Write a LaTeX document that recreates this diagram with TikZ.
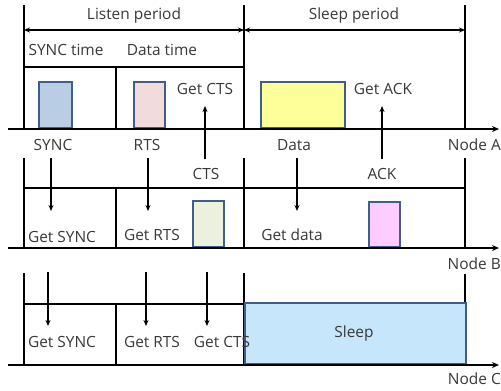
\documentclass[tikz,border=0pt]{standalone}
\usepackage{fontspec}
\setmainfont{Open Sans}
\usetikzlibrary{arrows.meta}
\definecolor{txt}{HTML}{383838}
\definecolor{edge}{HTML}{3F5F8A}
\definecolor{csync}{HTML}{B9CDE5}
\definecolor{crts}{HTML}{F2DCDB}
\definecolor{cdata}{HTML}{FFFF99}
\definecolor{ccts}{HTML}{EBF1DE}
\definecolor{cack}{HTML}{FFCCFF}
\definecolor{csleep}{HTML}{C6E7FB}
\tikzset{
  lbl/.style={text=txt,font=\fontsize{15.5}{17}\selectfont,inner sep=0pt},
  axisline/.style={line width=1.6bp,-{Stealth[length=7bp,width=6bp]}},
  vline/.style={line width=1.5bp},
  hline/.style={line width=1.2bp},
  msg/.style={line width=1.3bp,-{Stealth[length=6bp,width=5bp]}},
  period/.style={line width=1.2bp,{Stealth[length=6bp,width=5bp]}-{Stealth[length=6bp,width=5bp]}},
  pkt/.style={draw=edge,line width=1.6bp},
}
\begin{document}
\begin{tikzpicture}[x=1bp,y=-1bp]
\useasboundingbox (0,0) rectangle (501,390);
% ---------- Node A ----------
\coordinate (A0) at (8,129);
\coordinate (A1) at (499,129);
\coordinate (t1) at (24,5);
\coordinate (t2) at (244,5);
\coordinate (t3) at (465,5);
\coordinate (m1) at (116,67);
\coordinate (h1) at (24,67);
\coordinate (h2) at (244,67);
\draw[vline] (t1) -- (t1 |- A0);
\draw[vline] (t2) -- (t2 |- A0);
\draw[vline] (t3) -- (t3 |- A0);
\draw[vline] (m1) -- (m1 |- A0);
\draw[hline] (h1) -- (h2);
\coordinate (p1) at (24,30);
\coordinate (p2) at (244,30);
\coordinate (p3) at (465,30);
\draw[period] (p1) -- (p2);
\draw[period] (p2) -- (p3);
\node[lbl] (lp) at (134,15) {Listen period};
\node[lbl] (sp) at (354,15) {Sleep period};
\node[lbl] (st) at (66,50) {SYNC time};
\node[lbl] (dt) at (162,50) {Data time};
\node[pkt,fill=csync,minimum width=33bp,minimum height=46bp,anchor=south west] (sync) at (38,129) {};
\node[pkt,fill=crts,minimum width=31bp,minimum height=46bp,anchor=south west] (rts) at (133,129) {};
\node[pkt,fill=cdata,minimum width=84bp,minimum height=46bp,anchor=south west] (data) at (260,129) {};
\draw[axisline] (A0) -- (A1);
\node[lbl] (gcts) at (205,89) {Get CTS};
\node[lbl] (gack) at (383,89) {Get ACK};
\node[lbl] (lsync) at (53,145) {SYNC};
\node[lbl] (lrts) at (147,145) {RTS};
\node[lbl] (ldata) at (294,145) {Data};
\node[lbl,anchor=east] (na) at (501,145) {Node A};
\node[lbl] (lcts) at (206,174) {CTS};
\node[lbl] (lack) at (382,174) {ACK};
% ---------- Node B ----------
\coordinate (B0) at (8,248);
\coordinate (B1) at (499,248);
\coordinate (b1) at (24,158);
\coordinate (b2) at (244,158);
\coordinate (b3) at (465,158);
\coordinate (bm) at (116,188);
\coordinate (bh1) at (24,188);
\coordinate (bh2) at (465,188);
\draw[vline] (b1) -- (b1 |- B0);
\draw[vline] (b2) -- (b2 |- B0);
\draw[vline] (b3) -- (b3 |- B0);
\draw[vline] (bm) -- (bm |- B0);
\draw[hline] (bh1) -- (bh2);
\node[pkt,fill=ccts,minimum width=31bp,minimum height=46bp,anchor=south west] (cts) at (192,248) {};
\node[pkt,fill=cack,minimum width=31bp,minimum height=45bp,anchor=south west] (ack) at (368,248) {};
\draw[axisline] (B0) -- (B1);
\node[lbl] (gsyncb) at (62,237) {Get SYNC};
\node[lbl] (grtsb) at (152,235) {Get RTS};
\node[lbl] (gdata) at (292,235) {Get data};
\node[lbl,anchor=east] (nb) at (501,264) {Node B};
% messages A <-> B
\coordinate (sA) at (51,158); \coordinate (sB) at (51,211);
\coordinate (rA) at (148,158); \coordinate (rB) at (148,211);
\coordinate (dA) at (297,158); \coordinate (dB) at (297,211);
\coordinate (cB) at (205,159); \coordinate (cA) at (205,106);
\coordinate (kB) at (382,159); \coordinate (kA) at (382,106);
\draw[msg] (sA) -- (sB);
\draw[msg] (rA) -- (rB);
\draw[msg] (dA) -- (dB);
\draw[msg] (cB) -- (cA);
\draw[msg] (kB) -- (kA);
% ---------- Node C ----------
\coordinate (C0) at (8,365);
\coordinate (C1) at (499,365);
\coordinate (c1) at (24,273);
\coordinate (c2) at (244,273);
\coordinate (c3) at (465,274);
\coordinate (cm) at (116,304);
\coordinate (ch1) at (24,304);
\coordinate (ch2) at (244,304);
\draw[vline] (c1) -- (c1 |- C0);
\draw[vline] (c2) -- (c2 |- C0);
\draw[vline] (c3) -- (c3 |- C0);
\draw[vline] (cm) -- (cm |- C0);
\draw[hline] (ch1) -- (ch2);
\node[pkt,fill=csleep,minimum width=221bp,minimum height=61bp,anchor=south west] (sleep) at (244,365) {};
\draw[axisline] (C0) -- (C1);
\node[lbl] (sleeplbl) at (354,333) {Sleep};
\coordinate (x1a) at (48,272); \coordinate (x1b) at (48,326);
\coordinate (x2a) at (146,272); \coordinate (x2b) at (146,326);
\coordinate (x3a) at (207,272); \coordinate (x3b) at (207,326);
\draw[msg] (x1a) -- (x1b);
\draw[msg] (x2a) -- (x2b);
\draw[msg] (x3a) -- (x3b);
\node[lbl] (gsyncc) at (62,342) {Get SYNC};
\node[lbl] (grtsc) at (152,342) {Get RTS};
\node[lbl] (gctsc) at (222,342) {Get CTS};
\node[lbl,anchor=east] (nc) at (501,379) {Node C};
\end{tikzpicture}
\end{document}
